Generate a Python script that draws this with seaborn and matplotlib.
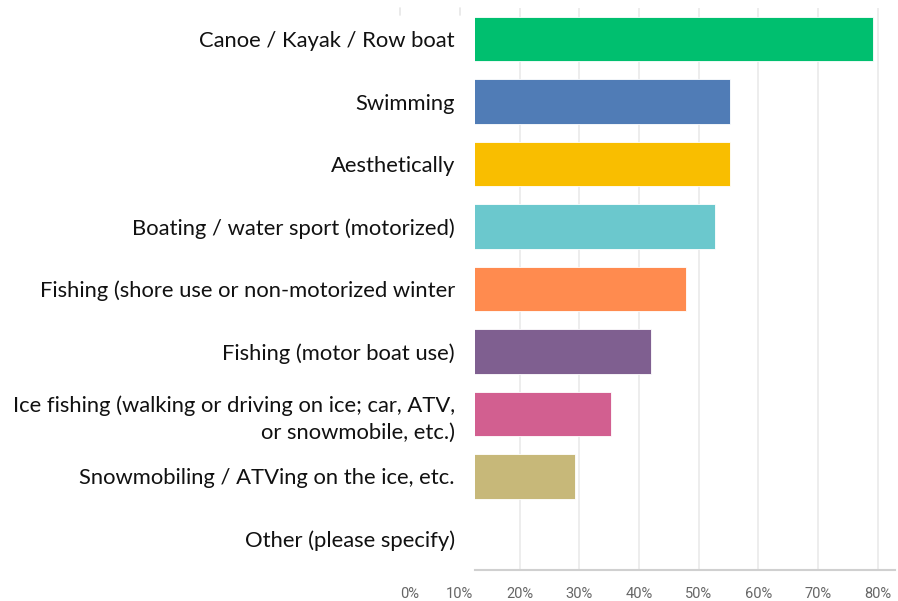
import matplotlib
matplotlib.use("Agg")
import matplotlib.pyplot as plt
import seaborn as sns
import pandas as pd

# Survey answers and percentage of respondents
activities = [
    "Canoe / Kayak / Row boat",
    "Swimming",
    "Aesthetically",
    "Boating / water sport (motorized)",
    "Fishing (shore use or non-motorized winter",
    "Fishing (motor boat use)",
    "Ice fishing (walking or driving on ice; car, ATV,\nor snowmobile, etc.)",
    "Snowmobiling / ATVing on the ice, etc.",
    "Other (please specify)",
]
percent = [79.1, 55.2, 55.2, 52.7, 47.8, 42.0, 35.3, 29.3, 0.0]
bar_colors = ["#00BF6F", "#507CB6", "#F9BE00", "#6BC8CD", "#FF8B4F",
              "#7F5F90", "#D25F90", "#C7B879", "#999999"]
tick_values = [0, 10, 20, 30, 40, 50, 60, 70, 80]

df = pd.DataFrame({"activity": activities, "percent": percent})

sns.set_style("white")
plt.rcParams["font.family"] = ["Lato", "DejaVu Sans"]

fig = plt.figure(figsize=(8.98, 6.01), dpi=100)
W, H = 898, 601
ax = fig.add_axes([475 / W, 1 - 570 / H, (895 - 475) / W, (570 - 8) / H])

# bars start at the left edge of the plot area (about 12.5%)
x_left = 12.55
sns.barplot(data=df, y="activity", x="percent", hue="activity",
            palette=bar_colors, legend=False, orient="h", width=0.71,
            saturation=1, ax=ax, zorder=3)
for p in ax.patches:
    p.set_edgecolor("white")
    p.set_linewidth(0.6)

ax.set_xlim(x_left, 82.85)
ax.set_ylim(len(activities) - 0.5, -0.5)
ax.set_xticks([t for t in tick_values if t > x_left])
ax.set_xticklabels([f"{t}%" for t in tick_values if t > x_left])
ax.tick_params(axis="x", length=0, pad=12, labelsize=10.5, labelcolor="#666666")
ax.tick_params(axis="y", length=0, pad=14.5, labelsize=15.8, labelcolor="#111111")
for lbl in ax.get_xticklabels():
    lbl.set_family(["Roboto", "DejaVu Sans"])
for lbl in ax.get_yticklabels():
    lbl.set_horizontalalignment("right")
    lbl.set_multialignment("right")
    lbl.set_linespacing(1.4)
    lbl.set_y(lbl.get_position()[1])

# tick labels for values left of the plot area
for t in tick_values:
    if t < x_left:
        ax.annotate(f"{t}%", xy=(t, 0), xycoords=("data", "axes fraction"),
                    xytext=(0, -12), textcoords="offset points",
                    ha="left" if t == 0 else "center", va="top",
                    fontsize=10.5, color="#666666",
                    family=["Roboto", "DejaVu Sans"], annotation_clip=False)
        ax.plot([t, t], [1.0, 1.0 - 7 / 562], color="#e6e6e6", lw=1.2,
                transform=ax.get_xaxis_transform(), clip_on=False)

ax.grid(axis="x", color="#eaeaea", linewidth=1.2, zorder=0)
ax.grid(axis="y", visible=False)
ax.set_xlabel("")
ax.set_ylabel("")
for side in ["left", "right", "top"]:
    ax.spines[side].set_visible(False)
ax.spines["bottom"].set_color("#d0d0d0")
ax.spines["bottom"].set_linewidth(1.5)

fig.savefig("out.png", dpi=100)
